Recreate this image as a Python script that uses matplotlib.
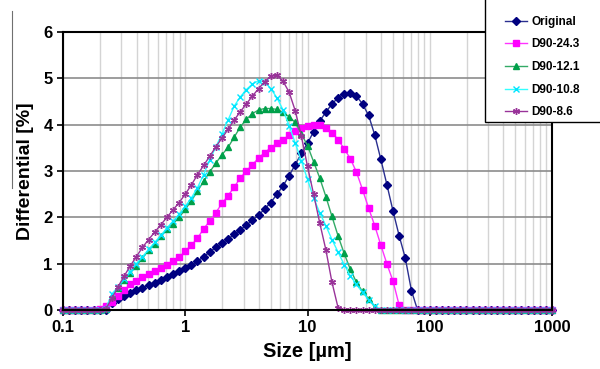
import matplotlib
matplotlib.use("Agg")
import matplotlib.pyplot as plt
from matplotlib.lines import Line2D
from matplotlib.patches import Rectangle
from matplotlib.ticker import NullFormatter

plt.rcParams["font.family"] = ["Liberation Sans", "DejaVu Sans"]

# particle size bins (um), 20 per decade
size_um = [
    0.1, 0.1122, 0.1259, 0.1413, 0.1585, 0.1778, 0.1995, 0.2239, 0.2512, 0.2818,
    0.3162, 0.3548, 0.3981, 0.4467, 0.5012, 0.5623, 0.6310, 0.7079, 0.7943, 0.8913,
    1.0, 1.122, 1.259, 1.413, 1.585, 1.778, 1.995, 2.239, 2.512, 2.818,
    3.162, 3.548, 3.981, 4.467, 5.012, 5.623, 6.310, 7.079, 7.943, 8.913,
    10.0, 11.22, 12.59, 14.13, 15.85, 17.78, 19.95, 22.39, 25.12, 28.18,
    31.62, 35.48, 39.81, 44.67, 50.12, 56.23, 63.10, 70.79, 79.43, 89.13,
    100.0, 112.2, 125.9, 141.3, 158.5, 177.8, 199.5, 223.9, 251.2, 281.8,
    316.2, 354.8, 398.1, 446.7, 501.2, 562.3, 631.0, 707.9, 794.3, 891.3,
    1000.0,
]

original = [
    0, 0, 0, 0, 0, 0, 0, 0, 0.15, 0.24,
    0.31, 0.37, 0.43, 0.48, 0.54, 0.59, 0.65, 0.71, 0.77, 0.84,
    0.90, 0.97, 1.05, 1.15, 1.25, 1.35, 1.44, 1.53, 1.63, 1.73,
    1.83, 1.94, 2.05, 2.18, 2.32, 2.50, 2.68, 2.90, 3.14, 3.38,
    3.60, 3.85, 4.08, 4.27, 4.45, 4.58, 4.67, 4.69, 4.62, 4.45,
    4.20, 3.78, 3.25, 2.70, 2.13, 1.60, 1.12, 0.42, 0, 0,
    0, 0, 0, 0, 0, 0, 0, 0, 0, 0,
    0, 0, 0, 0, 0, 0, 0, 0, 0, 0,
    0,
]
d90_243 = [
    0, 0, 0, 0, 0, 0, 0.03, 0.08, 0.18, 0.30,
    0.43, 0.55, 0.63, 0.71, 0.77, 0.84, 0.91, 0.98, 1.06, 1.14,
    1.27, 1.40, 1.55, 1.75, 1.92, 2.10, 2.30, 2.47, 2.65, 2.85,
    3.00, 3.14, 3.28, 3.40, 3.50, 3.60, 3.68, 3.77, 3.86, 3.94,
    3.98, 3.99, 3.99, 3.94, 3.83, 3.68, 3.48, 3.27, 2.98, 2.60,
    2.20, 1.82, 1.40, 0.99, 0.62, 0.10, 0, 0, 0, 0,
    0, 0, 0, 0, 0, 0, 0, 0, 0, 0,
    0, 0, 0, 0, 0, 0, 0, 0, 0, 0,
    0,
]
d90_121 = [
    0, 0, 0, 0, 0, 0, 0, 0.03, 0.30, 0.47,
    0.64, 0.80, 0.96, 1.12, 1.29, 1.43, 1.59, 1.74, 1.86, 2.00,
    2.17, 2.36, 2.56, 2.78, 2.98, 3.17, 3.35, 3.51, 3.73, 3.95,
    4.12, 4.24, 4.32, 4.35, 4.35, 4.33, 4.27, 4.17, 4.05, 3.80,
    3.55, 3.20, 2.85, 2.45, 2.02, 1.60, 1.22, 0.88, 0.60, 0.40,
    0.24, 0.06, 0, 0, 0, 0, 0, 0, 0, 0,
    0, 0, 0, 0, 0, 0, 0, 0, 0, 0,
    0, 0, 0, 0, 0, 0, 0, 0, 0, 0,
    0,
]
d90_108 = [
    0, 0, 0, 0, 0, 0, 0, 0.03, 0.35, 0.50,
    0.67, 0.83, 1.00, 1.15, 1.31, 1.46, 1.61, 1.77, 1.92, 2.07,
    2.24, 2.42, 2.64, 2.92, 3.24, 3.52, 3.80, 4.10, 4.40, 4.60,
    4.76, 4.88, 4.95, 4.92, 4.78, 4.58, 4.32, 3.98, 3.60, 3.22,
    2.82, 2.42, 2.10, 1.82, 1.52, 1.25, 0.98, 0.74, 0.55, 0.38,
    0.22, 0.08, 0, 0, 0, 0, 0, 0, 0, 0,
    0, 0, 0, 0, 0, 0, 0, 0, 0, 0,
    0, 0, 0, 0, 0, 0, 0, 0, 0, 0,
    0,
]
d90_86 = [
    0, 0, 0, 0, 0, 0, 0, 0.03, 0.25, 0.50,
    0.73, 0.95, 1.15, 1.35, 1.52, 1.68, 1.84, 2.00, 2.16, 2.32,
    2.50, 2.70, 2.92, 3.12, 3.32, 3.52, 3.71, 3.90, 4.10, 4.28,
    4.45, 4.62, 4.78, 4.93, 5.05, 5.07, 4.94, 4.70, 4.30, 3.75,
    3.10, 2.50, 1.88, 1.30, 0.60, 0.05, 0, 0, 0, 0,
    0, 0, 0, 0, 0, 0, 0, 0, 0, 0,
    0, 0, 0, 0, 0, 0, 0, 0, 0, 0,
    0, 0, 0, 0, 0, 0, 0, 0, 0, 0,
    0,
]

series = [
    ("Original", original, "#2a2f8f", "#000080", "D", 3.6),
    ("D90-24.3", d90_243, "#ff33ff", "#ff00ff", "s", 3.8),
    ("D90-12.1", d90_121, "#33aa66", "#00a04a", "^", 4.5),
    ("D90-10.8", d90_108, "#33ffff", "#00e5ff", "x", 4.5),
    ("D90-8.6", d90_86, "#993399", "#993399", (6, 2, 0), 5.0),
]

fig = plt.figure(figsize=(6, 3.69), dpi=100)
ax = fig.add_axes([0.105, 0.16, 0.815, 0.753])

for label, values, line_color, marker_color, marker, ms in series:
    ax.plot(size_um, values, color=line_color, lw=1.0, marker=marker, ms=ms,
            mfc=marker_color, mec=marker_color, mew=1.0, label=label, clip_on=False)

ax.set_xscale("log")
ax.set_xlim(0.1, 1000)
ax.set_ylim(0, 6)
ax.set_yticks(range(7))
ax.set_xticks([0.1, 1, 10, 100, 1000])
ax.set_xticklabels(["0.1", "1", "10", "100", "1000"])
ax.xaxis.set_minor_formatter(NullFormatter())

ax.grid(True, which="both", axis="x", color="#d4d4d4", lw=1.0)
ax.grid(True, which="major", axis="y", color="#8c8c8c", lw=1.2)
ax.set_axisbelow(True)

for spine in ax.spines.values():
    spine.set_color("black")
    spine.set_linewidth(1.5)

ax.tick_params(axis="both", which="major", labelsize=12, length=4, width=1.2, direction="out")
ax.tick_params(axis="x", which="minor", length=0)
for lab in ax.get_xticklabels() + ax.get_yticklabels():
    lab.set_fontweight("bold")

ax.set_xlabel("Size [µm]", fontsize=14.5, fontweight="bold", labelpad=5)
ax.set_ylabel("Differential [%]", fontsize=14, fontweight="bold", labelpad=7)

# legend box runs off the top and right edge of the figure
fig.add_artist(Rectangle((0.8083, 0.669), 0.3, 0.4, transform=fig.transFigure,
                         facecolor="white", edgecolor="black", lw=1.0,
                         zorder=3, clip_on=False))
fig.legend(loc="upper left", bbox_to_anchor=(0.842, 0.957), frameon=False,
           prop={"weight": "bold", "size": 8.5}, handlelength=1.85,
           labelspacing=0.9, borderpad=0.0, handletextpad=0.35,
           borderaxespad=0.0)

# stray rule left of the y label in the source image
fig.add_artist(Line2D([0.02, 0.02], [0.49, 0.97], color="#707070", lw=0.8))

fig.savefig("out.png", dpi=100)
plt.close(fig)
